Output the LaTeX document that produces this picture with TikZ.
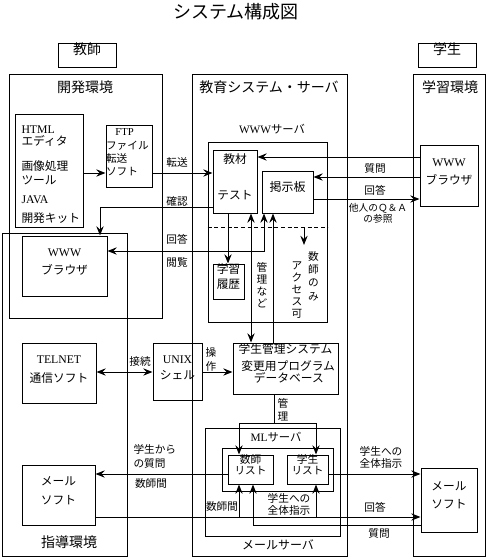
\documentclass[tikz,border=0pt]{standalone}
\usepackage{fontspec}
\setmainfont{Noto Sans CJK JP}
\newfontfamily\latinfont{Liberation Serif}
\newcommand{\en}[1]{{\latinfont #1}}
\usetikzlibrary{arrows.meta,fit}

\tikzset{every picture/.style={line width=0.75pt}}
\tikzset{
  box/.style={draw, inner sep=0pt},
  arr/.style={-{Stealth[length=7pt,width=5.5pt,inset=2.5pt]}},
  arrr/.style={{Stealth[length=7pt,width=5.5pt,inset=2.5pt]}-{Stealth[length=7pt,width=5.5pt,inset=2.5pt]}},
  lbl/.style={font=\fontsize{8}{9.5}\selectfont, inner sep=0pt, align=center},
  txt/.style={font=\fontsize{8.8}{10.5}\selectfont, align=center},
  head/.style={font=\fontsize{10.5}{12}\selectfont, inner sep=0pt},
}

\begin{document}
\begin{tikzpicture}[x=0.75pt,y=0.75pt,yscale=-1,xscale=1]
\useasboundingbox (0,0) rectangle (487,558);

% Text Node
\node[font=\fontsize{13.5}{15}\selectfont] (title) at (236,12) {システム構成図};

%Shape: Rectangle
\node[box, head, fit={(58,43) (116,67)}] (kyoshi) {教師};
%Shape: Rectangle
\node[box, head, fit={(418,43) (476,67)}] (gakusei) {学生};

%Shape: Rectangle
\node[box, fit={(9,74) (162,318)}] (kaihatsu) {};
%Shape: Rectangle
\node[box, fit={(2,233) (127,556)}] (shido) {};
%Shape: Rectangle
\node[box, fit={(192,74) (347,556)}] (kyoiku) {};
%Shape: Rectangle
\node[box, fit={(413,74) (485,556)}] (gakushu) {};
% Text Node
\node[head] (kaihatsutxt) at (85,87) {開発環境};
% Text Node
\node[head] (shidotxt) at (69,542) {指導環境};
% Text Node
\node[head] (kyoikutxt) at (269,87) {教育システム・サーバ};
% Text Node
\node[head] (gakushutxt) at (450,87) {学習環境};

%Shape: Rectangle
\node[box, fit={(15,114) (83,227)}] (html) {};
% Text Node
\node[txt, align=left, anchor=west, inner sep=0pt] (htmltxt) at (21,174.5) {\en{HTML}\\[-1.5pt]エディタ\\[8pt]画像処理\\ツール\\[4pt]\en{JAVA}\\[3.5pt]開発キット};
%Shape: Rectangle
\node[box, fit={(106,125) (152,187)}, font=\fontsize{8}{10}\selectfont, align=left] (ftp) {\hspace*{7pt}\en{FTP}\\ファイル\\転送\\ソフト};

%Shape: Rectangle
\node[box, fit={(208,142) (327,322)}] (wwwsv) {};
% Text Node
\node[font=\fontsize{8.5}{10}\selectfont, inner sep=0pt] (wwwsvtxt) at (272,129) {\en{WWW}サーバ};
%Shape: Rectangle
\node[box, txt, fit={(213,150) (257,213)}] (kyozai) {教材\\[16.5pt]テスト};
%Shape: Rectangle
\node[box, fit={(262,171) (313,213)}, font=\fontsize{9}{10.5}\selectfont] (keiji) {掲示板};
%Shape: Rectangle
\node[box, txt, fit={(213,264) (244,299)}] (rireki) {学習\\[0.75pt]履歴};
% Text Node
\node[lbl, font=\fontsize{8}{9}\selectfont] (kanrinado) at (262,285) {管\\理\\な\\ど};
% Text Node
\node[lbl, font=\fontsize{8}{10}\selectfont] (kyoshinomi) at (313.5,276) {数\\師\\の\\み};
% Text Node
\node[lbl, font=\fontsize{8}{9}\selectfont] (access) at (297,290) {ア\\ク\\セ\\ス\\可};
\coordinate (accA) at (304,227);
\coordinate (accB) at (304,245);

%Shape: Rectangle
\node[box, txt, fit={(22,236) (107,296)}] (tbrowser) {\en{WWW}\\[3pt]ブラウザ};
%Shape: Rectangle
\node[box, txt, align=left, fit={(420,145) (478,206)}] (sbrowser) {\en{WWW}\\[3pt]ブラウザ};

%Shape: Rectangle
\node[box, txt, fit={(22,343) (96,403)}] (telnet) {\en{TELNET}\\[3.75pt]通信ソフト};
%Shape: Rectangle
\node[box, txt, fit={(153,343) (202,400)}] (unix) {\en{UNIX}\\[1.5pt]シェル};
%Shape: Rectangle
\node[box, txt, align=left, fit={(233,343) (338,394)}] (kanri) {学生管理システム\\[2.25pt]\hspace*{4pt}変更用プログラム\\[-1.5pt]\hspace*{5pt}データベース};

%Shape: Rectangle
\node[box, fit={(205,428) (340,536)}] (mlsv) {};
%Shape: Rectangle
\node[box, fit={(222,448) (333,491)}] (mlin) {};
% Text Node
\node[font=\fontsize{8.5}{10}\selectfont, inner sep=0pt] (mlsvtxt) at (276,437.5) {\en{ML}サーバ};
%Shape: Rectangle
\node[box, fit={(228,455) (273,484)}, font=\fontsize{8}{8.5}\selectfont, align=center] (klist) {数師\\リスト};
%Shape: Rectangle
\node[box, fit={(287,455) (328,484)}, font=\fontsize{8}{8.5}\selectfont, align=center] (slist) {学生\\リスト};
% Text Node
\node[font=\fontsize{9}{10.5}\selectfont, inner sep=0pt] (mailsvtxt) at (278,545) {メールサーバ};
\coordinate (branch) at (274,423);
\coordinate (jk) at (239,517);
\coordinate (js) at (316,517);

%Shape: Rectangle
\node[box, txt, fit={(22,465) (95,525)}] (tmail) {メール\\[3.75pt]ソフト};
%Shape: Rectangle
\node[box, txt, fit={(421,468) (477,532)}] (smail) {メール\\[3pt]ソフト};

%Straight Lines
\draw[arr] (html.east|-0,173) -- (ftp.west|-0,173);
%Straight Lines
\draw[arr] (ftp.east|-0,173) -- (kyozai.west|-0,173);
%Straight Lines
\draw[arr] (kyozai.west|-0,207) -| (tbrowser.north-|100,0);
%Straight Lines
\draw[arrr] (keiji.south-|264,0) |- (tbrowser.east|-0,251);
%Straight Lines
\draw[arr] (sbrowser.west|-0,157) -- (kyozai.east|-0,157);
%Straight Lines
\draw[arr] (sbrowser.west|-0,177) -- (keiji.east|-0,177);
%Straight Lines
\draw[arr] (keiji.east|-0,199) -- (sbrowser.west|-0,199);
%Straight Lines
\draw[arr] (kyozai.south-|228,0) -- (rireki.north-|228,0);
%Straight Lines
\draw[arrr] (kyozai.south-|251,0) -- (kanri.north-|251,0);
%Straight Lines
\draw[arr] (kanri.north-|273,0) -- (keiji.south-|273,0);
%Straight Lines
\draw[dash pattern={on 3pt off 2pt}] (wwwsv.west|-0,227) -- (wwwsv.east|-0,227);
%Straight Lines
\draw[arr] (accA) -- (accB);
%Straight Lines
\draw[arrr] (telnet.east|-0,372) -- (unix.west|-0,372);
%Straight Lines
\draw[arr] (unix.east|-0,372) -- (kanri.west|-0,372);
%Straight Lines
\draw (kanri.south-|branch) -- (branch);
\draw[arr] (branch) -| (klist.north-|239,0);
\draw[arr] (branch) -| (slist.north-|316,0);
%Straight Lines
\draw[arr] (klist.west|-0,474) -- (tmail.east|-0,474);
%Straight Lines
\draw[arr] (slist.east|-0,474) -- (smail.west|-0,474);
%Straight Lines
\draw[arr] (tmail.east|-0,517) -- (smail.west|-0,517);
\draw[arr] (jk) -- (klist.south-|jk);
\draw[arr] (js) -- (slist.south-|js);
%Straight Lines
\draw[arr] (smail.west|-0,525) -| (klist.south-|253,0);

% Text Node
\node[lbl] (tensou) at (177,162) {転送};
% Text Node
\node[lbl] (kakunin) at (177,201) {確認};
% Text Node
\node[lbl] (kaito1) at (177,239) {回答};
% Text Node
\node[lbl] (etsuran) at (177,262) {閲覧};
% Text Node
\node[lbl] (shitsumon1) at (375,168) {質問};
% Text Node
\node[lbl] (kaito2) at (375,190) {回答};
% Text Node
\node[lbl, font=\fontsize{7.3}{7}\selectfont] (tanin) at (378,213.5) {他人のＱ＆Ａ\\の参照};
% Text Node
\node[lbl] (setsuzoku) at (140,361) {接続};
% Text Node
\node[lbl, font=\fontsize{8}{10.5}\selectfont] (sousa) at (211,359) {操\\作};
% Text Node
\node[lbl, font=\fontsize{8}{9.75}\selectfont] (kanri2) at (283,409.5) {管\\理};
% Text Node
\node[lbl, align=left, anchor=west, font=\fontsize{8}{10.5}\selectfont] (karano) at (133,456) {学生から\\の質問};
% Text Node
\node[lbl] (kyoshikan1) at (151,483) {数師間};
% Text Node
\node[lbl, font=\fontsize{8}{8.5}\selectfont] (zentai1) at (381,457.5) {学生への\\全体指示};
% Text Node
\node[lbl] (kaito3) at (375,507) {回答};
% Text Node
\node[lbl] (shitsumon2) at (379,533) {質問};
% Text Node
\node[lbl] (kyoshikan2) at (222,506) {数師間};
% Text Node
\node[lbl, font=\fontsize{8}{9}\selectfont] (zentai2) at (289,504) {学生への\\全体指示};

\end{tikzpicture}
\end{document}
